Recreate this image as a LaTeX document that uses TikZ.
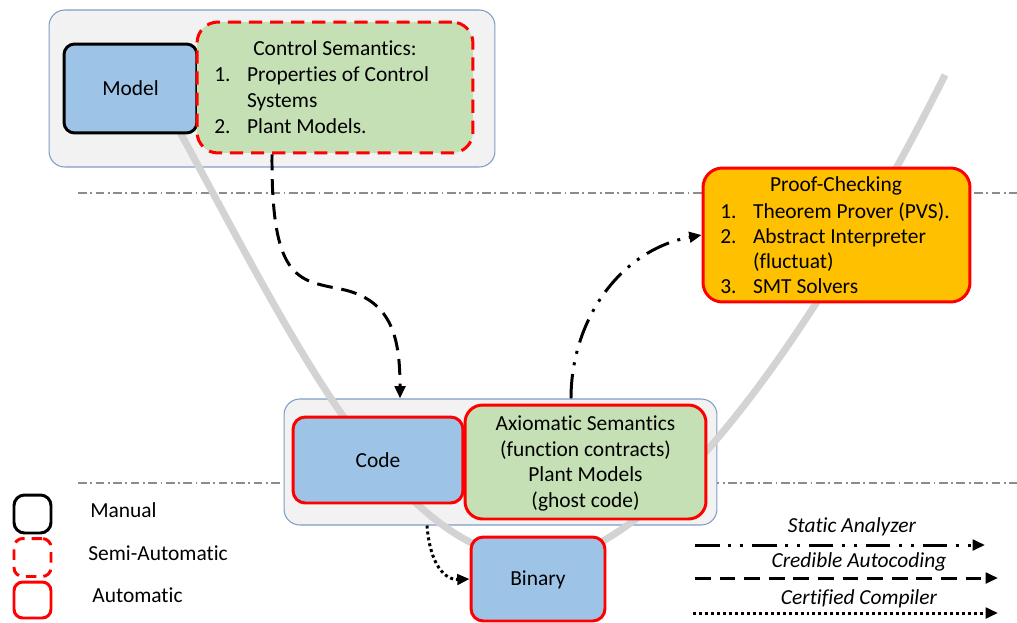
\documentclass[tikz,border=0pt]{standalone}
\usepackage{fontspec}
\setmainfont[Ligatures=NoCommon]{Carlito}
\usetikzlibrary{arrows.meta}
\definecolor{boxblue}{HTML}{9DC3E6}
\definecolor{boxgreen}{HTML}{C5E0B4}
\definecolor{boxorange}{HTML}{FFC000}
\definecolor{autored}{HTML}{FF0000}
\definecolor{panelfill}{HTML}{F2F2F2}
\definecolor{panelline}{HTML}{7F9DC6}
\definecolor{vcurve}{HTML}{D3D3D3}
\definecolor{sepline}{HTML}{8C8C8C}
\begin{document}
\begin{tikzpicture}[x=0.02cm,y=-0.02cm,
  font=\fontsize{12.2}{14.8}\selectfont,
  panel/.style={draw=panelline, line width=0.6pt, fill=panelfill, rounded corners=9pt},
  manualbox/.style={draw=black, line width=1.7pt, rounded corners=6pt},
  semibox/.style={draw=autored, line width=1.7pt, dash pattern=on 7.5pt off 4.5pt, rounded corners=12pt},
  autobox/.style={draw=autored, line width=1.7pt, rounded corners=8pt},
  txt/.style={inner sep=0pt, anchor=base},
  txtw/.style={inner sep=0pt, anchor=base west},
  flow/.style={line width=1.7pt, -{Triangle[length=7pt,width=6pt]}},
  analyzer/.style={flow, dash pattern=on 14pt off 5pt on 1.7pt off 5pt on 1.7pt off 5pt},
  autocoding/.style={flow, dash pattern=on 9pt off 5pt},
  compiler/.style={flow, dash pattern=on 1.7pt off 1.7pt},
  separator/.style={draw=sepline, line width=0.6pt, dash pattern=on 5pt off 2pt on 1pt off 2pt},
  legendlabel/.style={txt, font=\fontsize{12.2}{14.8}\selectfont\itshape},
]
\useasboundingbox (0,0) rectangle (1017,622);

% level separators
\coordinate (sepA1) at (78,193);
\coordinate (sepA2) at (1017,193);
\coordinate (sepB1) at (78,483);
\coordinate (sepB2) at (1017,483);
\draw[separator] (sepA1) -- (sepA2);
\draw[separator] (sepB1) -- (sepB2);

% grouping panels
\node[panel, minimum width=8.92cm, minimum height=3.14cm] (toppanel) at (272,88.5) {};
\node[panel, minimum width=8.66cm, minimum height=2.52cm] (codepanel) at (500.5,462) {};

% the V of the development cycle
\draw[vcurve, line width=4pt] (165,105) .. controls (285,321) and (390,560) .. (540,560)
  .. controls (660,560) and (825,315) .. (945,75);

% boxes
\node[manualbox, fill=boxblue, minimum width=2.66cm, minimum height=1.78cm] (model) at (130.5,88.5) {};
\node[semibox, fill=boxgreen, minimum width=5.52cm, minimum height=2.62cm] (ctrl) at (335,87.5) {};
\node[autobox, fill=boxorange, rounded corners=11pt, minimum width=5.34cm, minimum height=2.68cm] (proof) at (836.5,235) {};
\node[autobox, fill=boxblue, rounded corners=7pt, minimum width=3.4cm, minimum height=1.72cm] (code) at (378,460) {};
\node[autobox, fill=boxgreen, rounded corners=10pt, minimum width=4.82cm, minimum height=2.28cm] (axiom) at (585.5,462) {};
\node[autobox, fill=boxblue, rounded corners=7pt, minimum width=2.68cm, minimum height=1.68cm] (binary) at (538,579) {};

% box texts
\node[txt] (modeltxt) at (130.5,95) {Model};
\node[txt] (ctrltitle) at (335,55) {Control Semantics:};
\node[txtw] (ctrln1) at (214,81.5) {1.};
\node[txtw] (ctrll1) at (246.7,81.5) {Properties of Control};
\node[txtw] (ctrll2) at (246.7,107) {Systems};
\node[txtw] (ctrln2) at (214,133) {2.};
\node[txtw] (ctrll3) at (246.7,133) {Plant Models.};

\node[txt] (prooftitle) at (836,191.7) {Proof-Checking};
\node[txtw] (proofn1) at (720,218) {1.};
\node[txtw] (proofl1) at (752.7,218) {Theorem Prover (PVS).};
\node[txtw] (proofn2) at (720,243.5) {2.};
\node[txtw] (proofl2) at (752.7,243.5) {Abstract Interpreter};
\node[txtw] (proofl3) at (752.7,268.5) {(fluctuat)};
\node[txtw] (proofn3) at (720,293.5) {3.};
\node[txtw] (proofl4) at (752.7,293.5) {SMT Solvers};

\node[txt] (codetxt) at (378,467) {Code};
\node[txt] (ax1) at (585.5,430) {Axiomatic Semantics};
\node[txt] (ax2) at (585.5,456.5) {(function contracts)};
\node[txt] (ax3) at (585.5,481.5) {Plant Models};
\node[txt] (ax4) at (585.5,507) {(ghost code)};
\node[txt] (binarytxt) at (538,585) {Binary};

% connectors
\draw[autocoding] ([xshift=-1.26cm]ctrl.south) .. controls (271,285) and (300,280) .. (345,290)
  .. controls (393,302) and (400,340) .. ([xshift=-2.01cm]codepanel.north);
\draw[analyzer] ([xshift=1.41cm]codepanel.north) .. controls (571,320) and (620,250) .. (proof.west);
\draw[compiler] ([xshift=-1.47cm]codepanel.south) .. controls (430,565) and (445,580) .. (binary.west);

% legend: box borders
\node[manualbox, minimum width=0.74cm, minimum height=0.76cm] (lgmanual) at (32.5,514) {};
\node[semibox, dash pattern=on 6pt off 4pt, rounded corners=5pt, minimum width=0.74cm, minimum height=0.76cm] (lgsemi) at (32.5,557.5) {};
\node[autobox, rounded corners=5pt, minimum width=0.74cm, minimum height=0.72cm] (lgauto) at (32.5,600) {};
\node[txtw] (lgmanualtxt) at (90,517) {Manual};
\node[txtw] (lgsemitxt) at (88,560) {Semi-Automatic};
\node[txtw] (lgautotxt) at (92,602) {Automatic};

% legend: connector kinds
\node[legendlabel] (lgsa) at (852,532) {Static Analyzer};
\node[legendlabel] (lgca) at (859,567) {Credible Autocoding};
\node[legendlabel] (lgcc) at (859,604) {Certified Compiler};
\coordinate (sa1) at (695,545);
\coordinate (sa2) at (985,545);
\coordinate (ca1) at (695,578);
\coordinate (ca2) at (998,578);
\coordinate (cc1) at (693,613);
\coordinate (cc2) at (998,613);
\draw[analyzer] (sa1) -- (sa2);
\draw[autocoding] (ca1) -- (ca2);
\draw[compiler] (cc1) -- (cc2);
\end{tikzpicture}
\end{document}
